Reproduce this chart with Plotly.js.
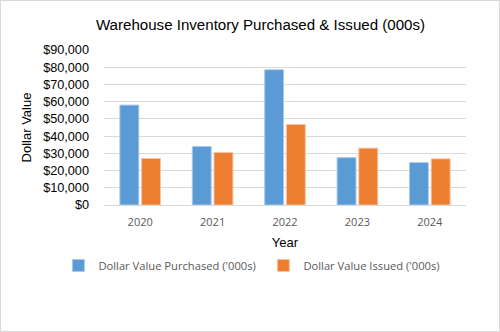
<!DOCTYPE html>
<html>
<head>
<meta charset="utf-8">
<script src="https://cdn.plot.ly/plotly-3.0.1.min.js"></script>
<style>
  html, body { margin: 0; padding: 0; background: #fff; }
  #wrap { position: relative; width: 500px; height: 332px; }
  #chart { width: 500px; height: 332px; }
  #frame { position: absolute; left: 0; top: 0; width: 500px; height: 332px; box-sizing: border-box; border: 1px solid #d9d9d9; pointer-events: none; }
</style>
</head>
<body>
<div id="wrap"><div id="chart"></div><div id="frame"></div></div>
<script>
const years = ['2020', '2021', '2022', '2023', '2024'];
const purchased = [58000, 34000, 78500, 27500, 24600];
const issued = [27000, 30500, 46700, 33000, 26800];
const seriesNames = ["Dollar Value Purchased ('000s)", "Dollar Value Issued ('000s)"];
const chartTitle = 'Warehouse Inventory Purchased &amp; Issued (000s)';

const traces = [
  { type: 'bar', x: years, y: purchased, name: seriesNames[0],
    marker: { color: '#5B9BD5', line: { color: '#a9c9ec', width: 1 } } },
  { type: 'bar', x: years, y: issued, name: seriesNames[1],
    marker: { color: '#ED7D31', line: { color: '#f7c3a0', width: 1 } } }
];

const layout = {
  width: 500, height: 332,
  margin: { l: 104, r: 34, t: 50, b: 126.5 },
  paper_bgcolor: '#fff', plot_bgcolor: '#fff',
  barmode: 'group', bargap: 0.4, bargroupgap: 0.13,
  title: { text: chartTitle, x: 0.521, xanchor: 'center', y: 0.925, yanchor: 'middle',
    font: { family: 'Liberation Sans, Arial, sans-serif', size: 15.1, color: '#000' } },
  xaxis: {
    type: 'category', showgrid: false, showline: false, ticks: '', ticklabelstandoff: 9,
    tickfont: { family: 'Open Sans, sans-serif', size: 11, color: '#595959' },
    title: { text: 'Year', standoff: 9, font: { family: 'Liberation Sans, Arial, sans-serif', size: 13, color: '#000' } }
  },
  yaxis: {
    range: [0, 90000], dtick: 10000, tickprefix: '$', tickformat: ',d',
    showgrid: true, gridcolor: '#d9d9d9', gridwidth: 1, zeroline: true, zerolinecolor: '#d9d9d9',
    showline: false, ticks: '', ticklabelstandoff: 14,
    tickfont: { family: 'Liberation Sans, Arial, sans-serif', size: 12.7, color: '#000' },
    title: { text: 'Dollar Value', standoff: 8, font: { family: 'Liberation Sans, Arial, sans-serif', size: 13, color: '#000' } }
  },
  showlegend: true,
  legend: { orientation: 'h', x: -0.126, xanchor: 'left', y: -0.39, yanchor: 'middle',
    entrywidth: 160, entrywidthmode: 'pixels',
    font: { family: 'Open Sans, sans-serif', size: 11.2, color: '#595959' }, traceorder: 'normal' }
};

Plotly.newPlot('chart', traces, layout, { displayModeBar: false, staticPlot: true });
</script>
</body>
</html>
